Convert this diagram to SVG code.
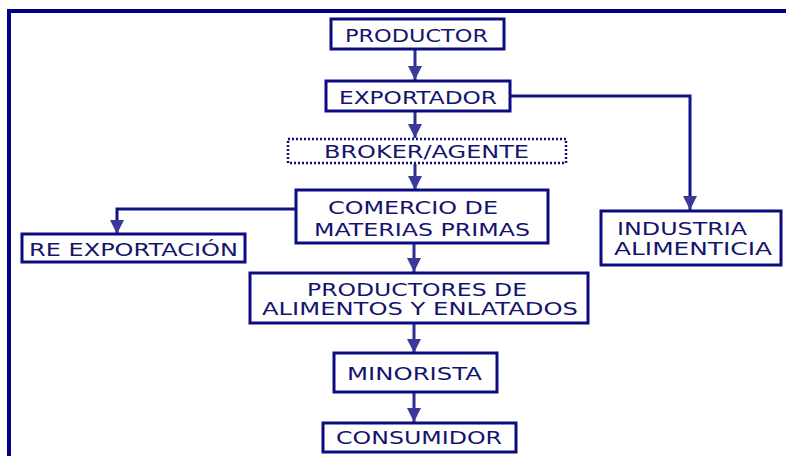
<svg xmlns="http://www.w3.org/2000/svg" width="786" height="456" viewBox="0 0 786 456">
<style>
.box{fill:#fff;stroke:#0c0c80;stroke-width:3}
.dot{fill:#fff;stroke:#0c0c80;stroke-width:2.5;stroke-dasharray:2 2}
.t{font-family:"DejaVu Sans","Verdana",sans-serif;font-size:18.5px;fill:#14146e}
.c{fill:none;stroke:#2c2c92;stroke-width:3}
.cd{fill:none;stroke:#12128a;stroke-width:3}
</style>
<defs>
<marker id="ah" viewBox="0 0 14 14" refX="14" refY="7" markerWidth="14" markerHeight="14" markerUnits="userSpaceOnUse" orient="auto">
<path d="M0,0 L14,7 L0,14 z" fill="#3a3a9c"/>
</marker>
</defs>
<rect x="0" y="0" width="786" height="456" fill="#fff"/>
<path d="M9,460 V11 H790" fill="none" stroke="#000088" stroke-width="4"/>
<g id="connectors">
<path class="c" d="M415,49 V80" marker-end="url(#ah)"/>
<path class="c" d="M415,111 V138" marker-end="url(#ah)"/>
<path class="c" d="M415,164 V190" marker-end="url(#ah)"/>
<path class="cd" d="M510,96 H690 V210" marker-end="url(#ah)"/>
<path class="cd" d="M295,209 H117 V234" marker-end="url(#ah)"/>
<path class="c" d="M414,244 V272" marker-end="url(#ah)"/>
<path class="c" d="M414,323 V353" marker-end="url(#ah)"/>
<path class="c" d="M414,393 V422" marker-end="url(#ah)"/>
</g>
<g id="productor">
<rect class="box" x="331" y="19" width="173" height="30"/>
<text class="t" x="345" y="42" textLength="143" lengthAdjust="spacingAndGlyphs">PRODUCTOR</text>
</g>
<g id="exportador">
<rect class="box" x="326" y="81" width="184" height="30"/>
<text class="t" x="339" y="104" textLength="158" lengthAdjust="spacingAndGlyphs">EXPORTADOR</text>
</g>
<g id="broker">
<rect class="dot" x="288" y="139" width="278" height="24"/>
<text class="t" x="324" y="158" textLength="205" lengthAdjust="spacingAndGlyphs">BROKER/AGENTE</text>
</g>
<g id="comercio">
<rect class="box" x="296" y="190" width="252" height="53"/>
<text class="t" x="328" y="214" textLength="170" lengthAdjust="spacingAndGlyphs">COMERCIO DE</text>
<text class="t" x="314" y="236" textLength="216" lengthAdjust="spacingAndGlyphs">MATERIAS PRIMAS</text>
</g>
<g id="reexportacion">
<rect class="box" x="22" y="234" width="223" height="28"/>
<text class="t" x="29" y="256" textLength="209" lengthAdjust="spacingAndGlyphs">RE EXPORTACIÓN</text>
</g>
<g id="industria">
<rect class="box" x="601" y="211" width="180" height="54"/>
<text class="t" x="617" y="235" textLength="130" lengthAdjust="spacingAndGlyphs">INDUSTRIA</text>
<text class="t" x="614" y="255" textLength="158" lengthAdjust="spacingAndGlyphs">ALIMENTICIA</text>
</g>
<g id="productores">
<rect class="box" x="250" y="273" width="338" height="50"/>
<text class="t" x="307" y="296" textLength="220" lengthAdjust="spacingAndGlyphs">PRODUCTORES DE</text>
<text class="t" x="262" y="315" textLength="316" lengthAdjust="spacingAndGlyphs">ALIMENTOS Y ENLATADOS</text>
</g>
<g id="minorista">
<rect class="box" x="334" y="353" width="163" height="39"/>
<text class="t" x="347" y="380" textLength="135" lengthAdjust="spacingAndGlyphs">MINORISTA</text>
</g>
<g id="consumidor">
<rect class="box" x="323" y="423" width="193" height="29"/>
<text class="t" x="336" y="444" textLength="166" lengthAdjust="spacingAndGlyphs">CONSUMIDOR</text>
</g>
</svg>
